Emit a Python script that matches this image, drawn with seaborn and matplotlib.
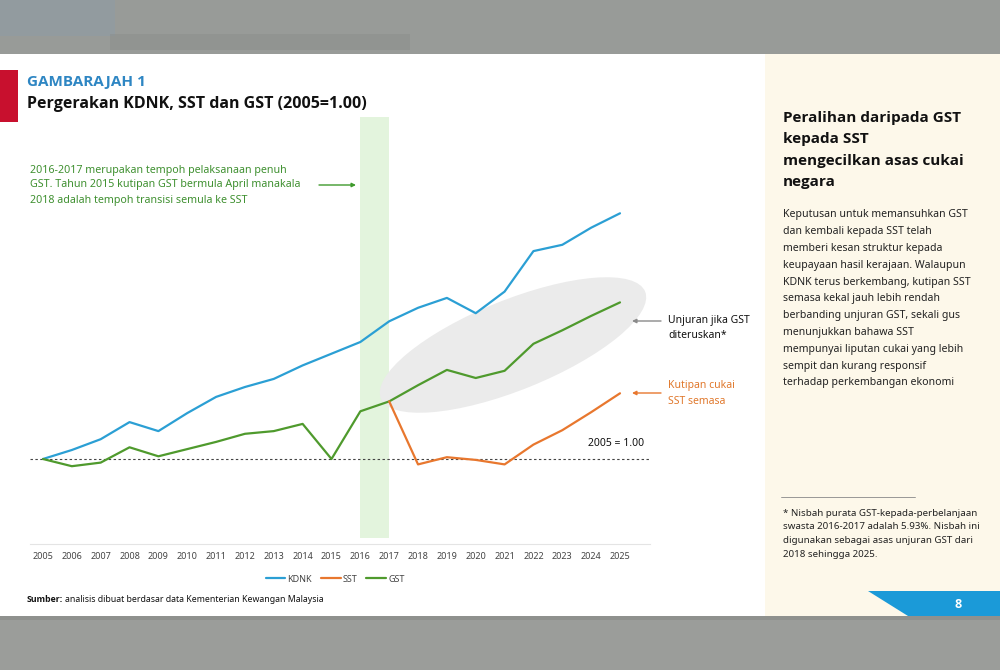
import matplotlib
matplotlib.use("Agg")
import matplotlib.pyplot as plt
import matplotlib.font_manager as fm
import seaborn as sns
import pandas as pd
from matplotlib.patches import Ellipse, Rectangle, Polygon
from matplotlib.lines import Line2D

# ---------------- data ----------------
YEARS = ["2005", "2006", "2007", "2008", "2009", "2010", "2011", "2012", "2013",
         "2014", "2015", "2016", "2017", "2018", "2019", "2020", "2021", "2022",
         "2023", "2024", "2025"]
KDNK = [1.00, 1.10, 1.22, 1.41, 1.31, 1.51, 1.69, 1.80, 1.89, 2.04, 2.17,
        2.30, 2.53, 2.68, 2.79, 2.62, 2.86, 3.31, 3.38, 3.57, 3.73]
GST = [1.00, 0.92, 0.96, 1.13, 1.03, 1.11, 1.19, 1.28, 1.31, 1.39, 1.00,
       1.53, 1.64, 1.82, 1.99, 1.90, 1.98, 2.28, 2.43, 2.59, 2.74]
SST_YEARS = ["2017", "2018", "2019", "2020", "2021", "2022", "2023", "2024", "2025"]
SST = [1.64, 0.94, 1.02, 0.99, 0.94, 1.16, 1.32, 1.52, 1.73]
SERIES = ["KDNK", "SST", "GST"]
COLORS = {"KDNK": "#2b9fd4", "SST": "#e8772e", "GST": "#4f9a2d"}
BASE = 1.00

sns.set_theme(style="white")
plt.rcParams['font.family'] = ['Noto Sans', 'DejaVu Sans']


def bold_family():
    for fam in ["Noto Sans", "Open Sans", "Lato", "Roboto", "Inter", "Liberation Sans"]:
        try:
            p = fm.findfont(fm.FontProperties(family=fam, weight="bold"),
                            fallback_to_default=False)
        except Exception:
            continue
        if "bold" in p.lower() or "black" in p.lower() or "semibold" in p.lower():
            return fam
    return "DejaVu Sans"


BOLD = [bold_family(), "DejaVu Sans"]

W, H = 1000, 670
fig = plt.figure(figsize=(10, 6.7), dpi=100)
fig.patch.set_facecolor("white")


def fx(x):
    return x / W


def fy(y):
    return 1 - y / H


def frect(x0, y0, x1, y1, **kw):
    r = Rectangle((fx(x0), fy(y1)), fx(x1) - fx(x0), fy(y0) - fy(y1),
                  transform=fig.transFigure, **kw)
    fig.add_artist(r)
    return r


# ---------------- page background ----------------
frect(0, 0, 1000, 54, facecolor="#989b98", edgecolor="none", zorder=-5)
frect(0, 0, 115, 36, facecolor="#8f9ca4", edgecolor="none", zorder=-4, alpha=0.6)
frect(110, 34, 410, 50, facecolor="#8b8f8c", edgecolor="none", zorder=-4, alpha=0.5)
frect(0, 616, 1000, 670, facecolor="#9b9d9a", edgecolor="none", zorder=-5)
frect(0, 616, 1000, 620, facecolor="#8f918e", edgecolor="none", zorder=-4)
frect(765, 54, 1000, 616, facecolor="#fdf8ea", edgecolor="none", zorder=-5)
frect(0, 70, 18, 122, facecolor="#c8102e", edgecolor="none", zorder=-3)
poly = Polygon([(fx(868), fy(591)), (fx(1000), fy(591)), (fx(1000), fy(616)),
                (fx(908), fy(616))], closed=True, transform=fig.transFigure,
               facecolor="#1b9ad8", edgecolor="none", zorder=-3)
fig.add_artist(poly)
fig.text(fx(958), fy(604), "8", color="white", fontsize=9, fontweight="bold",
         family=BOLD, ha="center", va="center")

# ---------------- titles ----------------
fig.text(fx(27), fy(82), "GAMBARAJAH 1", color="#2e86c3", fontsize=11,
         fontweight="bold", family=BOLD, ha="left", va="center")
fig.text(fx(27), fy(104), "Pergerakan KDNK, SST dan GST (2005=1.00)",
         color="#111111", fontsize=11.5, fontweight="bold", family=BOLD,
         ha="left", va="center")

# ---------------- chart ----------------
ax = fig.add_axes([fx(30), fy(544), fx(650) - fx(30), (544 - 117) / H])
ax.set_facecolor("none")

pos = {y: i for i, y in enumerate(YEARS)}
df = pd.DataFrame({
    "pos": [pos[y] for y in YEARS] * 2 + [pos[y] for y in SST_YEARS],
    "val": KDNK + GST + SST,
    "series": ["KDNK"] * len(YEARS) + ["GST"] * len(YEARS) + ["SST"] * len(SST_YEARS),
})

ax.axvspan(pos["2016"], pos["2017"], ymin=0.014, ymax=1.0, color="#e3f4dd",
           zorder=0, lw=0)
ell = Ellipse((5.13, (H - 345) / 100), width=2.85, height=0.9, angle=22,
              transform=fig.dpi_scale_trans, facecolor="#ebebeb",
              edgecolor="none", zorder=0.5)
ax.add_patch(ell)
ax.axhline(BASE, color="#444444", ls=(0, (2.2, 2.2)), lw=0.8, zorder=1.5)

sns.lineplot(data=df, x="pos", y="val", hue="series", hue_order=["KDNK", "GST", "SST"],
             palette=COLORS, linewidth=1.6, estimator=None, sort=False,
             legend=False, ax=ax, zorder=3)

ax.set_xlim(-0.45, 21.04)
ax.set_ylim(0.0556, 4.8)
ax.set_xticks(range(len(YEARS)))
ax.set_xticklabels(YEARS)
ax.set_yticks([])
ax.set_xlabel("")
ax.set_ylabel("")
for s in ["top", "left", "right"]:
    ax.spines[s].set_visible(False)
ax.spines["bottom"].set_color("#e4e4e4")
ax.spines["bottom"].set_linewidth(0.8)
ax.tick_params(axis="x", length=0, labelsize=6.5, labelcolor="#444444", pad=6)

# legend
handles = [Line2D([0], [0], color=COLORS[s], lw=1.6) for s in SERIES]
fig.legend(handles, SERIES, loc="center", bbox_to_anchor=(fx(335), fy(579)),
           ncol=3, frameon=False, fontsize=6.5, handlelength=2.2,
           handletextpad=0.2, columnspacing=1.0, labelcolor="#444444")

# annotations
green_lines = ["2016-2017 merupakan tempoh pelaksanaan penuh",
               "GST. Tahun 2015 kutipan GST bermula April manakala",
               "2018 adalah tempoh transisi semula ke SST"]
for i, t in enumerate(green_lines):
    fig.text(fx(30), fy(170 + 15 * i), t, color="#3f9030", fontsize=7.7,
             ha="left", va="center")
ax.annotate("", xy=(fx(356), fy(185)), xytext=(fx(319), fy(185)),
            xycoords="figure fraction", textcoords="figure fraction",
            arrowprops=dict(arrowstyle="-|>", color="#3f9a2d", lw=1.0,
                            mutation_scale=6, shrinkA=0, shrinkB=0))
ax.annotate("", xy=(fx(632), fy(321)), xytext=(fx(661), fy(321)),
            xycoords="figure fraction", textcoords="figure fraction",
            arrowprops=dict(arrowstyle="-|>", color="#8a8a8a", lw=1.0,
                            mutation_scale=6, shrinkA=0, shrinkB=0))
ax.annotate("", xy=(fx(632), fy(393)), xytext=(fx(661), fy(393)),
            xycoords="figure fraction", textcoords="figure fraction",
            arrowprops=dict(arrowstyle="-|>", color="#e8772e", lw=1.0,
                            mutation_scale=6, shrinkA=0, shrinkB=0))
fig.text(fx(668), fy(321), "Unjuran jika GST", color="#111111", fontsize=7.5,
         ha="left", va="center")
fig.text(fx(668), fy(336), "diteruskan*", color="#111111", fontsize=7.5,
         ha="left", va="center")
fig.text(fx(668), fy(386), "Kutipan cukai", color="#e0782c", fontsize=7.5,
         ha="left", va="center")
fig.text(fx(668), fy(401), "SST semasa", color="#e0782c", fontsize=7.5,
         ha="left", va="center")
fig.text(fx(588), fy(443), "2005 = 1.00", color="#111111", fontsize=7.5,
         ha="left", va="center")

# source
fig.canvas.draw()
r = fig.canvas.get_renderer()
t1 = fig.text(fx(27), fy(600), "Sumber:", color="#111111", fontsize=6.3,
              fontweight="bold", family=BOLD, ha="left", va="center")
bb = t1.get_window_extent(renderer=r)
fig.text(bb.x1 / W + 0.002, fy(600), "analisis dibuat berdasar data Kementerian Kewangan Malaysia",
         color="#111111", fontsize=6.3, ha="left", va="center")

# ---------------- right panel ----------------
head = ["Peralihan daripada GST", "kepada SST", "mengecilkan asas cukai", "negara"]
for i, t in enumerate(head):
    fig.text(fx(783), fy(118 + 21.3 * i), t, color="#111111", fontsize=11,
             fontweight="bold", family=BOLD, ha="left", va="center")
body = ["Keputusan untuk memansuhkan GST",
        "dan kembali kepada SST telah",
        "memberi kesan struktur kepada",
        "keupayaan hasil kerajaan. Walaupun",
        "KDNK terus berkembang, kutipan SST",
        "semasa kekal jauh lebih rendah",
        "berbanding unjuran GST, sekali gus",
        "menunjukkan bahawa SST",
        "mempunyai liputan cukai yang lebih",
        "sempit dan kurang responsif",
        "terhadap perkembangan ekonomi"]
for i, t in enumerate(body):
    fig.text(fx(783), fy(215 + 16.8 * i), t, color="#222222", fontsize=7.6,
             ha="left", va="center")
fig.add_artist(Line2D([fx(781), fx(915)], [fy(497), fy(497)],
                      transform=fig.transFigure, color="#888888", lw=0.6))
foot = ["* Nisbah purata GST-kepada-perbelanjaan",
        "swasta 2016-2017 adalah 5.93%. Nisbah ini",
        "digunakan sebagai asas unjuran GST dari",
        "2018 sehingga 2025."]
for i, t in enumerate(foot):
    fig.text(fx(783), fy(513 + 13.8 * i), t, color="#222222", fontsize=7,
             ha="left", va="center")

fig.savefig("out.png", dpi=100)
